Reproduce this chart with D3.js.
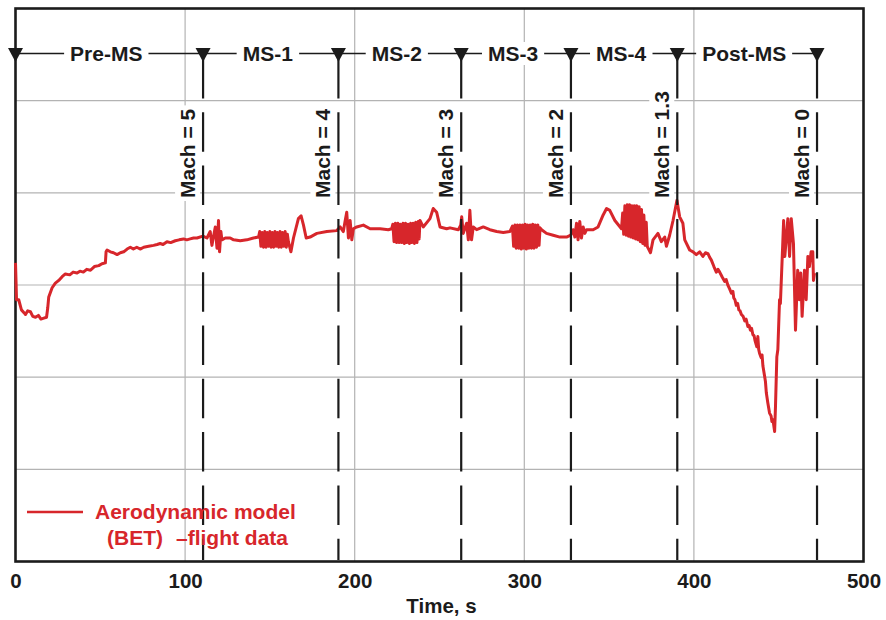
<!DOCTYPE html>
<html><head><meta charset="utf-8">
<script src="https://cdn.jsdelivr.net/npm/d3@7"></script>
<style>
html,body{margin:0;padding:0;background:#fff;}
svg{display:block;font-family:"Liberation Sans",Arial,Helvetica,sans-serif;font-weight:bold;}
</style></head>
<body>
<svg id="chart" width="886" height="620"></svg>
<script>
// ---------- data ----------
const xTicks = [0, 100, 200, 300, 400, 500];
const yGrid = [1, 2, 3, 4, 5];
const milestoneTimes = [0, 110.6, 190.4, 262.8, 327.5, 390.2, 472.6];
const phaseLabels = ["Pre-MS", "MS-1", "MS-2", "MS-3", "MS-4", "Post-MS"];
const machLabels = ["Mach = 5", "Mach = 4", "Mach = 3", "Mach = 2", "Mach = 1.3", "Mach = 0"];
const xLabel = "Time, s";
const legendLines = ["Aerodynamic model", "(BET)", "\u2013flight data"];

// flight data: [time (s), value]
const flight = [
[0,3.24],[0.3,3.05],[0.6,2.84],[1.9,2.84],[3.5,2.73],[5.0,2.70],[5.9,2.68],[7.2,2.72],[8.8,2.71],[10.2,2.66],
[11.8,2.65],[13.5,2.67],[15.0,2.63],[16.7,2.64],[18.3,2.65],[19.0,2.75],[19.6,2.87],[21.6,2.97],[23.5,3.02],
[25.5,3.05],[27.5,3.09],[29.4,3.12],[32.0,3.11],[34.0,3.14],[36.3,3.13],[38.0,3.15],[40.0,3.14],[42.0,3.17],[44.2,3.16],[46.5,3.20],
[49.1,3.21],[51.0,3.23],[53.0,3.24],[53.4,3.36],[54.0,3.38],[55.9,3.36],[57.8,3.35],[59.9,3.33],[61.8,3.35],
[63.8,3.36],[65.8,3.39],[67.7,3.41],[69.5,3.39],[71.5,3.41],[73.5,3.39],[75.6,3.41],[78.5,3.42],[81.4,3.43],[83.5,3.44],[85.3,3.45],[87.0,3.44],[89.3,3.47],
[91.5,3.46],[94.2,3.48],[96.5,3.49],[99.1,3.50],[101.0,3.49],[103.0,3.50],[105.0,3.51],[107.0,3.51],[110.5,3.53],
[112.9,3.51],[114.8,3.58],[115.8,3.43],[117.8,3.63],[118.8,3.40],[119.7,3.70],[120.3,3.36],[121.1,3.58],
[121.7,3.49],[123.7,3.51],[126.6,3.51],[128.6,3.49],[132.5,3.48],[136.4,3.49],[140.3,3.51],[143.3,3.52],
[144.0,3.58],[144.7,3.42],[145.5,3.57],[146.2,3.41],[147.0,3.58],[147.7,3.41],[148.5,3.57],[149.2,3.42],
[150.0,3.58],[150.7,3.41],[151.5,3.57],[152.2,3.41],[153.0,3.58],[153.7,3.42],[154.5,3.57],[155.2,3.41],
[156.0,3.58],[156.7,3.41],[157.5,3.57],[158.2,3.42],[159.0,3.58],[159.7,3.41],[160.3,3.55],
[160.9,3.47],[162.4,3.36],[163.9,3.51],[166.8,3.72],[168.4,3.75],[169.8,3.65],[171.4,3.51],[173.7,3.52],
[177.7,3.56],[183.6,3.58],[189.4,3.59],
[191.4,3.63],[193.3,3.58],[194.3,3.69],[195.3,3.79],[196.3,3.51],[197.3,3.70],[198.3,3.49],[199.2,3.61],
[201.2,3.63],[205.1,3.65],[209.1,3.61],[215.0,3.61],[219.8,3.60],[221.8,3.61],
[222.5,3.66],[223.2,3.47],[224.0,3.67],[224.7,3.46],[225.5,3.67],[226.2,3.46],[227.0,3.66],[227.7,3.46],
[228.5,3.67],[229.2,3.45],[230.0,3.67],[230.7,3.46],[231.5,3.66],[232.2,3.45],[233.0,3.67],[233.7,3.46],
[234.5,3.67],[235.2,3.45],[236.0,3.68],[236.7,3.46],[237.5,3.69],[238.0,3.50],
[238.5,3.70],[240.4,3.63],[244.4,3.72],[246.3,3.83],[248.3,3.79],[250.3,3.63],[254.2,3.61],[256.2,3.62],
[261.1,3.60],[262.5,3.65],[263.1,3.74],[264.0,3.56],[266.0,3.67],[267.0,3.49],[267.9,3.81],[268.9,3.49],
[269.9,3.63],[271.9,3.60],[275.8,3.63],[279.7,3.60],[283.7,3.58],[287.6,3.57],[291.5,3.58],
[293.0,3.64],[293.7,3.42],[294.5,3.65],[295.2,3.40],[296.0,3.65],[296.7,3.40],[297.5,3.65],[298.2,3.39],
[299.0,3.65],[299.7,3.40],[300.5,3.66],[301.2,3.39],[302.0,3.65],[302.7,3.40],[303.5,3.65],[304.2,3.40],
[305.0,3.66],[305.7,3.40],[306.5,3.65],[307.2,3.41],[308.0,3.65],[308.7,3.43],[309.3,3.62],
[310.2,3.60],[313.1,3.56],[317.0,3.54],[321.0,3.52],[324.9,3.52],[327.4,3.54],[328.8,3.60],[329.8,3.52],
[330.8,3.67],[331.7,3.49],[332.7,3.69],[333.7,3.51],[334.7,3.63],[335.7,3.56],[336.7,3.60],[340.6,3.60],
[343.5,3.63],[346.5,3.76],[348.5,3.83],[350.4,3.81],[353.4,3.70],[357.3,3.61],
[358.0,3.78],[358.6,3.55],[359.3,3.86],[360.0,3.54],[360.7,3.87],[361.4,3.53],[362.1,3.87],[362.8,3.52],
[363.5,3.86],[364.2,3.51],[364.9,3.86],[365.6,3.50],[366.3,3.86],[367.0,3.49],[367.7,3.85],[368.4,3.47],
[369.1,3.82],[369.8,3.45],[370.5,3.76],[371.2,3.43],[371.9,3.68],[372.5,3.42],
[373.0,3.40],[374.4,3.35],[375.9,3.49],[378.8,3.56],[380.8,3.47],[382.8,3.52],[383.8,3.42],[385.7,3.54],
[387.7,3.70],[390.0,3.92],[391.6,3.74],[393.5,3.67],[394.6,3.49],[397.5,3.38],[399.5,3.36],[401.4,3.33],[403.4,3.36],
[405.3,3.31],[406.8,3.35],[408.3,3.34],[409.3,3.30],[410.3,3.27],[411.8,3.20],[413.2,3.14],[414.2,3.17],[415.2,3.14],[416.6,3.09],[418.1,3.04],[419.0,3.06],[420.0,3.00],[421.0,2.96],[422.1,2.91],
[423.0,2.93],[423.5,2.86],[424.2,2.84],[425.0,2.78],[425.8,2.80],[426.5,2.73],[427.2,2.72],[428.0,2.68],[429.0,2.66],[430.0,2.61],[430.8,2.63],[431.8,2.55],[432.6,2.56],[433.3,2.51],[434.0,2.53],[434.8,2.46],
[435.5,2.45],[436.0,2.40],[437.1,2.33],[437.7,2.44],[438.2,2.30],[438.7,2.26],[439.7,2.21],[440.2,2.24],[440.7,2.12],[441.6,2.02],[442.2,1.95],[442.7,1.83],
[443.6,1.72],[444.6,1.61],[445.5,1.58],[446.0,1.52],[446.6,1.54],[447.6,1.41],[448.1,1.68],[448.9,2.22],[449.5,2.30],[450.5,2.84],
[451.0,2.80],[452.1,3.31],[452.9,3.70],[453.6,3.31],[454.4,3.49],[455.4,3.72],[456.4,3.31],[457.4,3.72],[458.7,3.45],
[459.9,2.51],[461.2,3.16],[462.2,2.84],[463.0,3.13],[463.8,2.66],[465.2,3.16],[466.2,2.84],[467.2,3.31],
[468.1,3.20],[469.1,3.36],[470.1,3.36],[470.5,3.05],[471.1,3.13]
];

// ---------- drawing ----------
const svg = d3.select("#chart");
const x = d3.scaleLinear().domain([0, 500]).range([15.5, 863.5]);
const y = d3.scaleLinear().domain([0, 6]).range([561.5, 8.5]);
const ink = "#1b1b1b", red = "#d7262b", gridC = "#b3b3b3";
const bandY = 53.5;

// grid
svg.append("g").selectAll("line").data(xTicks.slice(1, -1)).join("line")
  .attr("x1", d => x(d)).attr("x2", d => x(d)).attr("y1", y(6)).attr("y2", y(0))
  .attr("stroke", gridC).attr("stroke-width", 1.2);
svg.append("g").selectAll("line").data(yGrid).join("line")
  .attr("x1", x(0)).attr("x2", x(500)).attr("y1", d => y(d)).attr("y2", d => y(d))
  .attr("stroke", gridC).attr("stroke-width", 1.2);

// frame
svg.append("rect").attr("x", x(0)).attr("y", y(6)).attr("width", x(500) - x(0)).attr("height", y(0) - y(6))
  .attr("fill", "none").attr("stroke", ink).attr("stroke-width", 2.6);

// x axis labels
const axis = d3.axisBottom(x).tickValues(xTicks).tickSize(0).tickPadding(12);
const ag = svg.append("g").attr("transform", `translate(0,${y(0)})`).call(axis);
ag.select(".domain").remove();
ag.selectAll("text").attr("font-size", 20.5).attr("font-weight", "bold").attr("fill", ink)
  .attr("font-family", '"Liberation Sans",Arial,sans-serif').attr("dy", "0.71em");
svg.append("text").attr("x", (x(0) + x(500)) / 2 + 2).attr("y", 613).attr("text-anchor", "middle")
  .attr("font-size", 20.5).attr("fill", ink).text(xLabel);

// flight curve
svg.append("path").datum(flight)
  .attr("d", d3.line().x(d => x(d[0])).y(d => y(d[1])))
  .attr("fill", "none").attr("stroke", red).attr("stroke-width", 3).attr("stroke-linejoin", "round");

// milestone dashed lines
const ms = milestoneTimes.slice(1);
svg.append("g").selectAll("line").data(ms).join("line")
  .attr("x1", d => x(d)).attr("x2", d => x(d)).attr("y1", 59).attr("y2", y(0) - 1.5)
  .attr("stroke", ink).attr("stroke-width", 2.2).attr("stroke-dasharray", "39.5,13.8");

// Mach labels with white backing
const mg = svg.append("g").selectAll("g").data(ms).join("g")
  .attr("transform", d => `translate(${x(d) - 8},198) rotate(-90)`);
mg.each(function (d, i) {
  const g = d3.select(this);
  const r = g.append("rect").attr("fill", "#fff");
  const t = g.append("text").attr("x", 0).attr("y", 0).attr("font-size", 21).attr("fill", ink).text(machLabels[i]);
  const b = t.node().getBBox();
  r.attr("x", b.x - 3).attr("y", b.y - 1).attr("width", b.width + 6).attr("height", b.height + 2);
});

// phase band line
svg.append("line").attr("x1", x(milestoneTimes[0])).attr("x2", x(milestoneTimes[milestoneTimes.length - 1]))
  .attr("y1", bandY).attr("y2", bandY).attr("stroke", ink).attr("stroke-width", 1.3);
const pg = svg.append("g").selectAll("g").data(phaseLabels).join("g")
  .attr("transform", (d, i) => `translate(${(x(milestoneTimes[i]) + x(milestoneTimes[i + 1])) / 2 - 3},61)`);
pg.each(function (d) {
  const g = d3.select(this);
  const r = g.append("rect").attr("fill", "#fff");
  const t = g.append("text").attr("text-anchor", "middle").attr("font-size", 21).attr("fill", ink).text(d);
  const b = t.node().getBBox();
  r.attr("x", b.x - 6).attr("y", b.y).attr("width", b.width + 12).attr("height", b.height);
});

// triangles
svg.append("g").selectAll("path").data(milestoneTimes).join("path")
  .attr("transform", d => `translate(${x(d)},${bandY})`)
  .attr("d", "M-7.5,-5.5L7.5,-5.5L0,8.5Z").attr("fill", ink);

// legend
svg.append("line").attr("x1", 27).attr("x2", 83).attr("y1", 512).attr("y2", 512)
  .attr("stroke", red).attr("stroke-width", 2.6);
svg.append("text").attr("x", 95).attr("y", 519).attr("font-size", 21).attr("fill", red).text(legendLines[0]);
svg.append("text").attr("x", 107).attr("y", 545).attr("font-size", 21).attr("fill", red).text(legendLines[1]);
svg.append("text").attr("x", 176).attr("y", 545).attr("font-size", 21).attr("fill", red).text(legendLines[2]);
</script>
</body></html>
